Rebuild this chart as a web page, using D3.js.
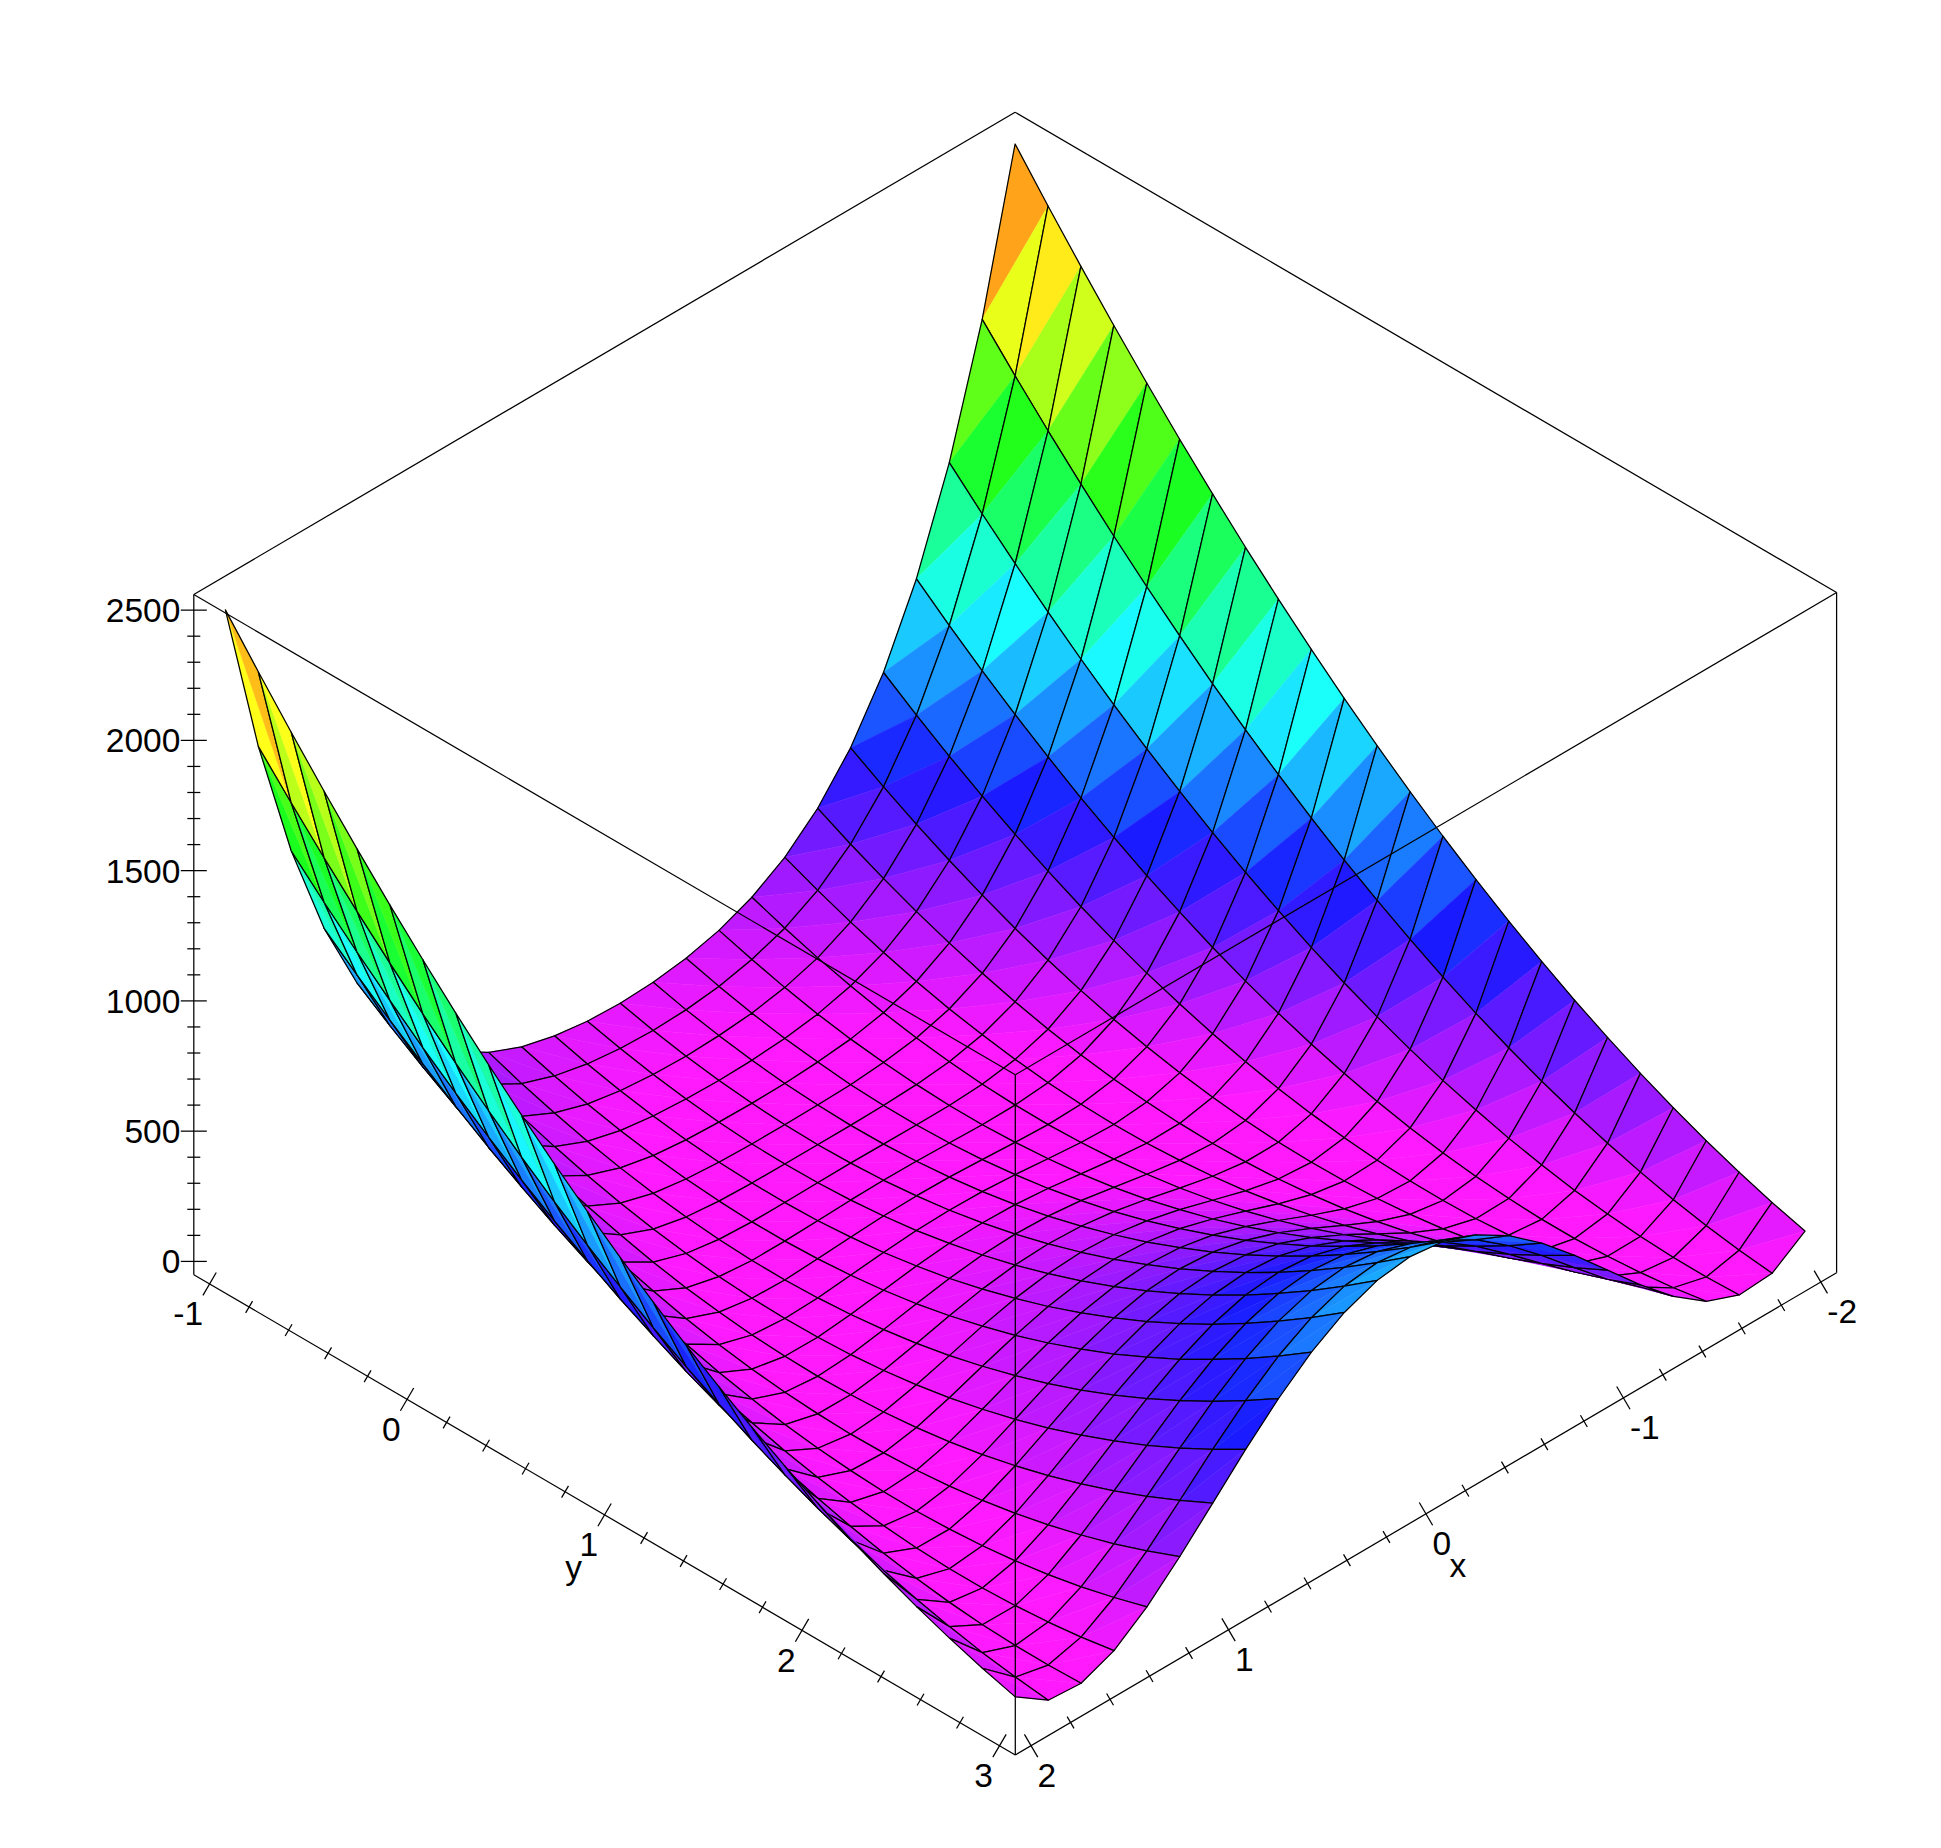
<!DOCTYPE html>
<html>
<meta charset="utf-8" />
<script src="https://d3js.org/d3.v7.min.js"></script>

<body>

    <style>
        body,
        html {
            margin: 0;
            padding: 0;
            background: #fff;
        }

        text {
            font-family: "Liberation Sans", Arial, sans-serif;
            font-size: 33.5px;
            fill: #000;
        }
    </style>

    <svg id="chart"></svg>

    <script>
        // grid of the surface
        var xGrid = [-2, -1.8333, -1.6667, -1.5, -1.3333, -1.1667, -1, -0.8333, -0.6667, -0.5, -0.3333, -0.1667, 0,
            0.1667, 0.3333, 0.5, 0.6667, 0.8333, 1, 1.1667, 1.3333, 1.5, 1.6667, 1.8333, 2];
        var yGrid = [-1, -0.8333, -0.6667, -0.5, -0.3333, -0.1667, 0, 0.1667, 0.3333, 0.5, 0.6667, 0.8333, 1,
            1.1667, 1.3333, 1.5, 1.6667, 1.8333, 2, 2.1667, 2.3333, 2.5, 2.6667, 2.8333, 3];

        // heights, one row per x, one column per y
        var zRows = [
            [2509, 2345, 2187, 2034, 1887, 1745, 1609, 1478, 1353, 1234, 1120, 1012, 909, 812, 720, 634, 553, 478, 409, 345, 287, 234, 187, 145, 109],
            [1910, 1767, 1630, 1499, 1373, 1253, 1138, 1028, 925, 827, 734, 647, 566, 490, 419, 354, 295, 241, 193, 151, 114, 82, 56, 36, 21],
            [1434, 1311, 1194, 1082, 975, 874, 779, 689, 605, 526, 453, 385, 323, 267, 216, 170, 131, 96, 68, 44, 27, 15, 8, 7, 12],
            [1062, 957, 857, 763, 674, 590, 513, 440, 374, 312, 257, 207, 162, 124, 90, 62, 40, 24, 13, 7, 7, 13, 24, 40, 62],
            [777, 687, 603, 524, 451, 384, 321, 265, 214, 169, 129, 95, 66, 43, 25, 13, 7, 6, 10, 21, 36, 58, 84, 117, 155],
            [562, 486, 416, 351, 292, 238, 190, 147, 110, 79, 53, 33, 18, 8, 5, 7, 14, 27, 45, 70, 99, 134, 175, 221, 273],
            [404, 340, 282, 229, 182, 140, 104, 73, 48, 29, 15, 7, 4, 7, 15, 29, 48, 73, 104, 140, 182, 229, 282, 340, 404],
            [290, 237, 189, 146, 109, 77, 52, 31, 16, 7, 3, 5, 13, 26, 44, 68, 98, 133, 174, 220, 272, 329, 392, 461, 535],
            [211, 166, 126, 92, 63, 40, 23, 10, 4, 3, 8, 18, 34, 55, 82, 114, 152, 196, 245, 299, 360, 425, 497, 573, 656],
            [158, 120, 86, 58, 36, 20, 9, 3, 3, 9, 20, 36, 58, 86, 120, 158, 203, 253, 308, 370, 436, 509, 586, 670, 759],
            [125, 91, 62, 39, 22, 9, 3, 2, 7, 17, 33, 54, 81, 113, 151, 195, 244, 298, 359, 424, 496, 572, 655, 743, 836],
            [107, 75, 50, 29, 14, 5, 1, 3, 11, 24, 42, 66, 96, 131, 172, 218, 270, 327, 390, 459, 533, 613, 698, 788, 885],
            [101, 70, 45, 26, 12, 4, 1, 4, 12, 26, 45, 70, 101, 137, 179, 226, 279, 337, 401, 470, 545, 626, 712, 804, 901],
            [106, 75, 49, 29, 14, 4, 1, 3, 10, 23, 41, 66, 95, 130, 171, 217, 269, 327, 390, 458, 532, 612, 697, 788, 884],
            [124, 90, 61, 38, 20, 8, 2, 1, 5, 16, 31, 53, 79, 112, 150, 193, 242, 297, 357, 423, 494, 571, 654, 741, 835],
            [156, 118, 84, 56, 34, 18, 7, 1, 1, 7, 18, 34, 56, 84, 118, 156, 201, 251, 306, 368, 434, 507, 584, 668, 757],
            [209, 163, 124, 89, 61, 37, 20, 8, 1, 0, 5, 15, 31, 52, 79, 112, 150, 193, 242, 297, 357, 423, 494, 571, 653],
            [287, 233, 185, 143, 106, 74, 48, 28, 13, 4, 0, 2, 9, 22, 41, 65, 95, 130, 170, 217, 269, 326, 389, 458, 532],
            [400, 336, 278, 225, 178, 136, 100, 69, 44, 25, 11, 3, 0, 3, 11, 25, 44, 69, 100, 136, 178, 225, 278, 336, 400],
            [558, 482, 411, 346, 287, 233, 185, 143, 106, 74, 48, 28, 13, 4, 0, 2, 9, 22, 41, 65, 95, 130, 170, 217, 269],
            [772, 682, 598, 519, 446, 378, 316, 260, 209, 163, 124, 89, 61, 37, 20, 8, 1, 0, 5, 15, 31, 52, 79, 112, 150],
            [1056, 951, 851, 757, 668, 584, 507, 434, 368, 306, 251, 201, 156, 118, 84, 56, 34, 18, 7, 1, 1, 7, 18, 34, 56],
            [1428, 1304, 1187, 1075, 968, 867, 772, 682, 598, 519, 446, 379, 316, 260, 209, 164, 124, 90, 61, 38, 20, 8, 2, 1, 5],
            [1903, 1760, 1623, 1491, 1366, 1245, 1130, 1021, 917, 819, 727, 640, 558, 482, 412, 347, 288, 234, 186, 143, 106, 75, 49, 29, 14],
            [2501, 2337, 2179, 2026, 1879, 1737, 1601, 1470, 1345, 1226, 1112, 1004, 901, 804, 712, 626, 545, 470, 401, 337, 279, 226, 179, 137, 101]
        ];

        var xTicks = [-2, -1, 0, 1, 2];
        var yTicks = [-1, 0, 1, 2, 3];
        var zTicks = [0, 500, 1000, 1500, 2000, 2500];
        var xMinor = [-1.8, -1.6, -1.4, -1.2, -0.8, -0.6, -0.4, -0.2, 0.2, 0.4, 0.6, 0.8, 1.2, 1.4, 1.6, 1.8];
        var yMinor = [-0.8, -0.6, -0.4, -0.2, 0.2, 0.4, 0.6, 0.8, 1.2, 1.4, 1.6, 1.8, 2.2, 2.4, 2.6, 2.8];
        var zMinor = [100, 200, 300, 400, 600, 700, 800, 900, 1100, 1200, 1300, 1400, 1600, 1700, 1800, 1900, 2100, 2200, 2300, 2400];

        var xMin = -2.08, xMax = 2.08, yMin = -1.08, yMax = 3.08, zMin = -51, zMax = 2560;

        var width = 1941;
        var height = 1848;

        var svg = d3.select("#chart")
            .attr("width", width)
            .attr("height", height)
            .style("display", "block");

        // screen position of the near bottom corner of the box
        var origin = [1015.3, 1755];

        // fraction along the two floor edges, height in pixels
        var xs = d3.scaleLinear().domain([xMax, xMin]).range([0, 1]);
        var ys = d3.scaleLinear().domain([yMax, yMin]).range([0, 1]);
        var zs = d3.scaleLinear().domain([zMin, zMax]).range([0, 680.2]);

        // low values stay magenta, the peak is orange
        var hue = d3.scaleLinear().domain([0, 40, 2509]).range([301, 300, 6]);

        function project(x, y, z) {
            return [
                origin[0] + xs(x) * 821.3 - ys(y) * 821.5,
                origin[1] - xs(x) * 482.3 - ys(y) * 480.3 - zs(z)
            ];
        }

        function faceColor(a, b, c) {
            return d3.hsl(hue((a + b + c) / 3), 1, 0.55).formatHex();
        }

        var line = d3.line();

        // far cells first so the nearer ones cover them
        var cells = [];
        d3.range(xGrid.length - 1).forEach(function (i) {
            d3.range(yGrid.length - 1).forEach(function (j) {
                cells.push({ i: i, j: j });
            });
        });

        function gridPoint(i, j) {
            return project(xGrid[i], yGrid[j], zRows[i][j]);
        }

        var cell = svg.append("g").selectAll("g")
            .data(cells)
            .enter().append("g");

        cell.append("path")
            .attr("d", function (d) {
                return line([gridPoint(d.i, d.j), gridPoint(d.i, d.j + 1), gridPoint(d.i + 1, d.j)]) + "Z";
            })
            .attr("fill", function (d) {
                return faceColor(zRows[d.i][d.j], zRows[d.i][d.j + 1], zRows[d.i + 1][d.j]);
            })
            .attr("stroke", function (d) {
                return faceColor(zRows[d.i][d.j], zRows[d.i][d.j + 1], zRows[d.i + 1][d.j]);
            })
            .attr("stroke-width", 0.5);

        cell.append("path")
            .attr("d", function (d) {
                return line([gridPoint(d.i, d.j + 1), gridPoint(d.i + 1, d.j + 1), gridPoint(d.i + 1, d.j)]) + "Z";
            })
            .attr("fill", function (d) {
                return faceColor(zRows[d.i][d.j + 1], zRows[d.i + 1][d.j + 1], zRows[d.i + 1][d.j]);
            })
            .attr("stroke", function (d) {
                return faceColor(zRows[d.i][d.j + 1], zRows[d.i + 1][d.j + 1], zRows[d.i + 1][d.j]);
            })
            .attr("stroke-width", 0.5);

        cell.append("path")
            .attr("d", function (d) {
                return line([gridPoint(d.i, d.j), gridPoint(d.i, d.j + 1), gridPoint(d.i + 1, d.j + 1), gridPoint(d.i + 1, d.j)]) + "Z";
            })
            .attr("fill", "none")
            .attr("stroke", "#000")
            .attr("stroke-width", 1.25)
            .attr("stroke-linejoin", "round");

        // the box goes over the surface
        var boxEdges = [
            [[xMax, yMin, zMin], [xMax, yMin, zMax]],
            [[xMax, yMax, zMin], [xMax, yMax, zMax]],
            [[xMin, yMax, zMin], [xMin, yMax, zMax]],
            [[xMax, yMin, zMin], [xMax, yMax, zMin]],
            [[xMax, yMax, zMin], [xMin, yMax, zMin]],
            [[xMax, yMin, zMax], [xMax, yMax, zMax]],
            [[xMax, yMax, zMax], [xMin, yMax, zMax]],
            [[xMax, yMin, zMax], [xMin, yMin, zMax]],
            [[xMin, yMin, zMax], [xMin, yMax, zMax]]
        ];

        var axes = svg.append("g")
            .attr("stroke", "#000")
            .attr("stroke-width", 1.25)
            .attr("fill", "none");

        axes.selectAll(".box-edge")
            .data(boxEdges)
            .enter().append("path")
            .attr("class", "box-edge")
            .attr("d", function (d) {
                return line(d.map(function (p) { return project(p[0], p[1], p[2]); }));
            });

        // ticks stand square to their edge on screen
        function tick(p, dir, half) {
            return line([[p[0] - dir[0] * half, p[1] - dir[1] * half], [p[0] + dir[0] * half, p[1] + dir[1] * half]]);
        }

        var yDir = [0.505, -0.863];
        var xDir = [0.505, 0.863];
        var zDir = [1, 0];

        function addTicks(values, toPoint, dir, half) {
            axes.append("g").selectAll("path")
                .data(values)
                .enter().append("path")
                .attr("d", function (d) { return tick(toPoint(d), dir, half); });
        }

        function yPoint(v) { return project(xMax, v, zMin); }
        function xPoint(v) { return project(v, yMax, zMin); }
        function zPoint(v) { return project(xMax, yMin, v); }

        addTicks(yTicks, yPoint, yDir, 13.2);
        addTicks(yMinor, yPoint, yDir, 6.8);
        addTicks(xTicks, xPoint, xDir, 13.2);
        addTicks(xMinor, xPoint, xDir, 6.8);
        addTicks(zTicks, zPoint, zDir, 13);
        addTicks(zMinor, zPoint, zDir, 6.5);

        svg.append("g").selectAll("text")
            .data(zTicks)
            .enter().append("text")
            .attr("x", function (d) { return zPoint(d)[0] - 13.5; })
            .attr("y", function (d) { return zPoint(d)[1] + 12; })
            .attr("text-anchor", "end")
            .text(function (d) { return d; });

        svg.append("g").selectAll("text")
            .data(yTicks)
            .enter().append("text")
            .attr("x", function (d) { return yPoint(d)[0] - 6.5; })
            .attr("y", function (d) { return yPoint(d)[1] + 41.5; })
            .attr("text-anchor", "end")
            .text(function (d) { return d; });

        svg.append("g").selectAll("text")
            .data(xTicks)
            .enter().append("text")
            .attr("x", function (d) { return xPoint(d)[0] + 6.5; })
            .attr("y", function (d) { return xPoint(d)[1] + 41.5; })
            .attr("text-anchor", "start")
            .text(function (d) { return d; });

        svg.append("text")
            .attr("x", yPoint(1)[0] - 31)
            .attr("y", yPoint(1)[1] + 64)
            .attr("text-anchor", "middle")
            .text("y");

        svg.append("text")
            .attr("x", xPoint(0)[0] + 32)
            .attr("y", xPoint(0)[1] + 63)
            .attr("text-anchor", "middle")
            .text("x");
    </script>

</body>

</html>
